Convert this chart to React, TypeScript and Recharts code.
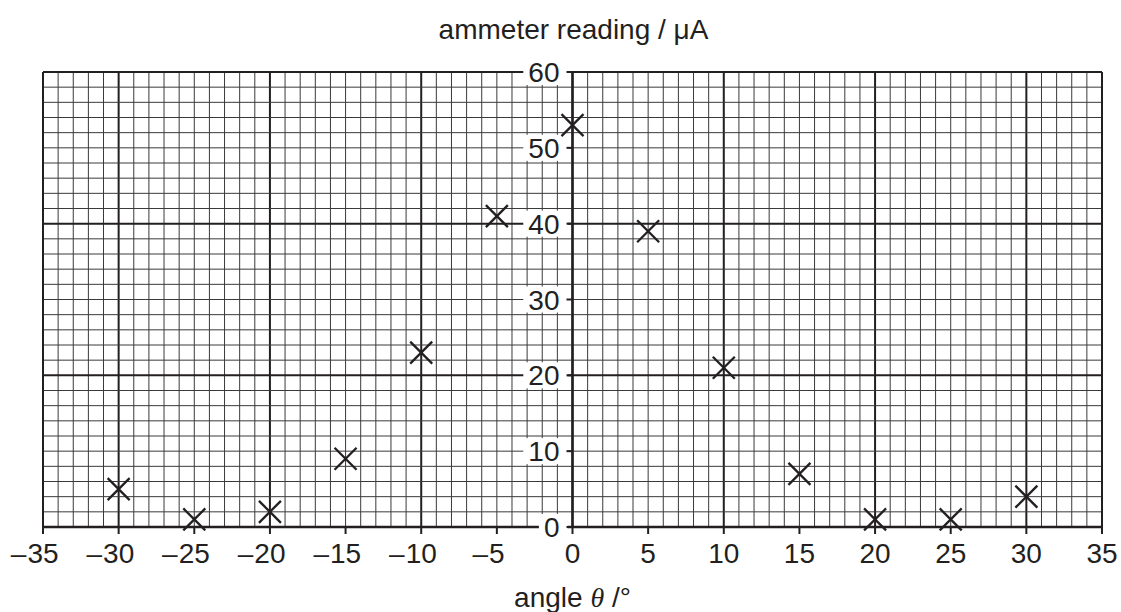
import { ScatterChart, Scatter, XAxis, YAxis, ReferenceLine, ReferenceDot } from 'recharts'

const angles = [-30, -25, -20, -15, -10, -5, 0, 5, 10, 15, 20, 25, 30]
const readings = [5, 1, 2, 9, 23, 41, 53, 39, 21, 7, 1, 1, 4]

const xTicks = [-35, -30, -25, -20, -15, -10, -5, 0, 5, 10, 15, 20, 25, 30, 35]
const yTicks = [0, 10, 20, 30, 40, 50, 60]

// graph paper: 1 degree by 2 microamp squares
const xGrid = Array.from({ length: 71 }, (_, i) => i - 35)
const yGrid = Array.from({ length: 31 }, (_, i) => i * 2)

const INK = '#231f20'
const FONT = '"Liberation Sans", Arial, Helvetica, sans-serif'
const DIGIT = 15.6

const points = angles.map((a, i) => ({ angle: a, reading: readings[i] }))

function Cross(props: any) {
  const { cx, cy } = props
  const s = 11
  return (
    <g stroke={INK} strokeWidth={2.3}>
      <line x1={cx - s} y1={cy - s} x2={cx + s} y2={cy + s} />
      <line x1={cx - s} y1={cy + s} x2={cx + s} y2={cy - s} />
    </g>
  )
}

// digits centred on the tick, the minus sign hangs to the left
function XTick(props: any) {
  const { x, y, payload } = props
  const v = payload.value as number
  const digits = String(Math.abs(v))
  const half = (digits.length * DIGIT) / 2
  return (
    <g fontSize={28} fontFamily={FONT} fill={INK}>
      {v < 0 && (
        <text x={x - half - 1} y={y} dy="0.71em" textAnchor="end">
          {'\u2013'}
        </text>
      )}
      <text x={x} y={y} dy="0.71em" textAnchor="middle">
        {digits}
      </text>
    </g>
  )
}

function YTick({ cx, cy, value }: any) {
  const label = String(value)
  const w = label.length * DIGIT
  return (
    <g>
      <rect x={cx - 13 - w - 5} y={cy - 13} width={w + 13} height={26} fill="#fff" />
      <line x1={cx - 6} y1={cy} x2={cx} y2={cy} stroke={INK} strokeWidth={2} />
      <text x={cx - 13} y={cy + 10} textAnchor="end" fontSize={28} fontFamily={FONT} fill={INK}>
        {label}
      </text>
    </g>
  )
}

function Titles({ cx, cy }: any) {
  return (
    <g fontFamily={FONT} fill={INK} fontSize={28}>
      <text x={cx + 1} y={cy - 33} textAnchor="middle">ammeter reading / μA</text>
      <text x={cx} y={cy + 80 + 455} textAnchor="middle">
        angle <tspan fontStyle="italic" fontFamily='"Liberation Serif", serif'>θ</tspan> /°
      </text>
    </g>
  )
}

export default function App() {
  return (
    <div style={{ position: 'absolute', left: 0, top: 0, background: '#fff' }}>
      <ScatterChart width={1121} height={612} margin={{ top: 72, right: 19, bottom: 25, left: 43 }}>
        <XAxis
          type="number"
          dataKey="angle"
          domain={[-35, 35]}
          ticks={xTicks}
          interval={0}
          height={60}
          axisLine={{ stroke: INK, strokeWidth: 2.5 }}
          tickLine={{ stroke: INK, strokeWidth: 2 }}
          tickSize={7}
          tickMargin={9}
          tick={(p: any) => <XTick {...p} />}
        />
        <YAxis type="number" dataKey="reading" domain={[0, 60]} hide />
        {xGrid.map((v) => (
          <ReferenceLine
            key={'x' + v}
            x={v}
            stroke={v % 10 === 0 ? INK : '#3a3a3a'}
            strokeWidth={v % 10 === 0 ? 2 : 1}
          />
        ))}
        {yGrid.map((v) => (
          <ReferenceLine
            key={'y' + v}
            y={v}
            stroke={v % 20 === 0 ? INK : '#3a3a3a'}
            strokeWidth={v % 20 === 0 ? 2 : 1}
          />
        ))}
        <ReferenceLine x={-35} stroke={INK} strokeWidth={2} />
        <ReferenceLine x={35} stroke={INK} strokeWidth={2} />
        <ReferenceLine y={60} stroke={INK} strokeWidth={2} />
        <ReferenceLine x={0} stroke={INK} strokeWidth={2.4} />
        {yTicks.map((v) => (
          <ReferenceDot
            key={'t' + v}
            x={0}
            y={v}
            r={0}
            shape={(p: any) => <YTick {...p} value={v} />}
          />
        ))}
        <ReferenceDot x={0} y={60} r={0} shape={(p: any) => <Titles {...p} />} />
        <Scatter data={points} dataKey="reading" shape={Cross} isAnimationActive={false} />
      </ScatterChart>
    </div>
  )
}
